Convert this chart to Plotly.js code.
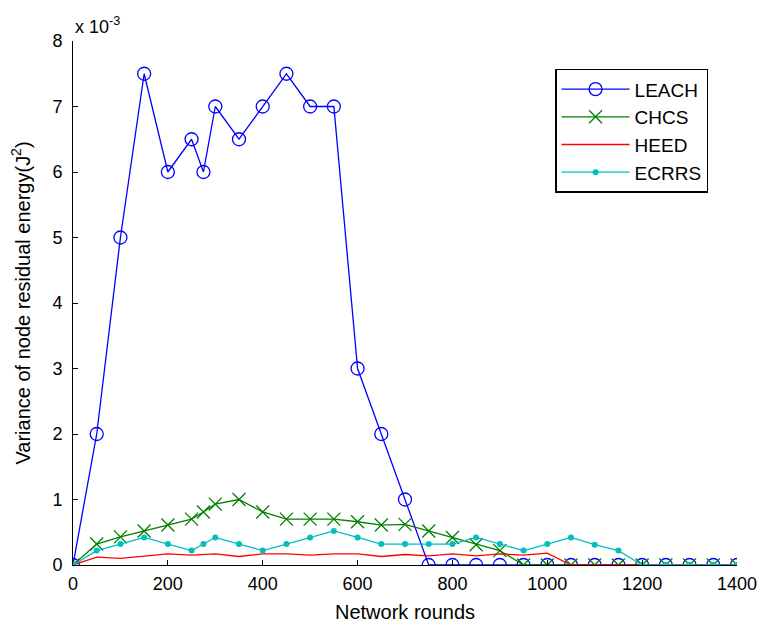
<!DOCTYPE html>
<html>
<head>
<meta charset="utf-8">
<script src="https://cdn.plot.ly/plotly-3.0.1.min.js"></script>
<style>html,body{margin:0;padding:0;background:#fff;}</style>
</head>
<body>
<div id="chart" style="width:759px;height:624px;"></div>
<script>
// Values in units of 1e-3 J^2
const roundsA = [0,50,100,150,200,250,275,300,350,400,450,500,550,600,650,700,750,800,850,900,950,1000,1050,1100,1150,1200,1250,1300,1350,1400];
const leach = [0,2,5,7.5,6,6.5,6,7,6.5,7,7.5,7,7,3,2,1,0,0,0,0,0,0,0,0,0,0,0,0,0,0];
const chcs  = [0,0.32,0.43,0.52,0.61,0.70,0.81,0.93,1.0,0.81,0.70,0.70,0.70,0.66,0.61,0.62,0.52,0.42,0.31,0.22,0,0,0,0,0,0,0,0,0,0];
const roundsH = [0,50,100,150,200,250,300,350,400,450,500,550,600,650,700,750,800,850,900,950,1000,1050,1100,1150,1200,1250,1300,1350,1400];
const heed  = [0,0.12,0.10,0.14,0.17,0.15,0.17,0.13,0.17,0.17,0.15,0.17,0.17,0.13,0.16,0.14,0.17,0.14,0.17,0.15,0.18,0,0,0,0,0,0,0,0];
const ecrrs = [0,0.22,0.32,0.42,0.32,0.22,0.32,0.42,0.32,0.22,0.32,0.42,0.52,0.42,0.32,0.32,0.32,0.32,0.42,0.32,0.22,0.32,0.42,0.31,0.22,0,0,0,0,0];
const names = ['LEACH','CHCS','HEED','ECRRS'];
const xTicks = [0,200,400,600,800,1000,1200,1400];
const yTicks = [0,1,2,3,4,5,6,7,8];

const font = {family:'Liberation Sans, Arial, sans-serif', color:'#000'};
const f = s => Object.assign({size:s}, font);

const traces = [
  {x:roundsA, y:leach, name:names[0], mode:'lines+markers',
   line:{color:'#0000ff', width:1.3},
   marker:{symbol:'circle-open', size:13, color:'#0000ff', line:{width:1.3, color:'#0000ff'}}},
  {x:roundsA, y:chcs, name:names[1], mode:'lines+markers',
   line:{color:'#008000', width:1.3},
   marker:{symbol:'x-thin-open', size:13, color:'#008000', line:{width:1.3, color:'#008000'}}},
  {x:roundsH, y:heed, name:names[2], mode:'lines',
   line:{color:'#ff0000', width:1.3}},
  {x:roundsA, y:ecrrs, name:names[3], mode:'lines+markers',
   line:{color:'#00bfbf', width:1.3},
   marker:{symbol:'circle', size:6, color:'#00bfbf'}}
];

const layout = {
  width:759, height:624,
  margin:{l:73, r:22, t:41, b:59},
  paper_bgcolor:'#fff', plot_bgcolor:'#fff',
  font:f(18),
  showlegend:true,
  legend:{x:0.726, y:0.947, xanchor:'left', yanchor:'top',
    bordercolor:'#000', borderwidth:1.5, bgcolor:'#fff',
    font:f(19), itemwidth:68, tracegroupgap:0},
  xaxis:{range:[0,1400], tickvals:xTicks, ticktext:xTicks.map(String),
    ticks:'inside', ticklen:5, tickcolor:'#000', showline:true, linecolor:'#000', linewidth:1,
    showgrid:false, zeroline:false, tickfont:f(18), ticklabelstandoff:2,
    title:{text:'Network rounds', font:f(20), standoff:12}},
  yaxis:{range:[0,8], tickvals:yTicks, ticktext:yTicks.map(String),
    ticks:'inside', ticklen:5, tickcolor:'#000', showline:true, linecolor:'#000', linewidth:1,
    showgrid:false, zeroline:false, tickfont:f(18), ticklabelstandoff:6,
    title:{text:'Variance of node residual energy(J<sup>2</sup>)', font:f(20), standoff:16}},
  annotations:[{xref:'paper', yref:'paper', x:0, y:1, xanchor:'left', yanchor:'bottom',
    xshift:0, yshift:2, showarrow:false, text:'x 10<sup>-3</sup>', font:f(18)}]
};

Plotly.newPlot('chart', traces, layout, {displayModeBar:false, staticPlot:true});
</script>
</body>
</html>
